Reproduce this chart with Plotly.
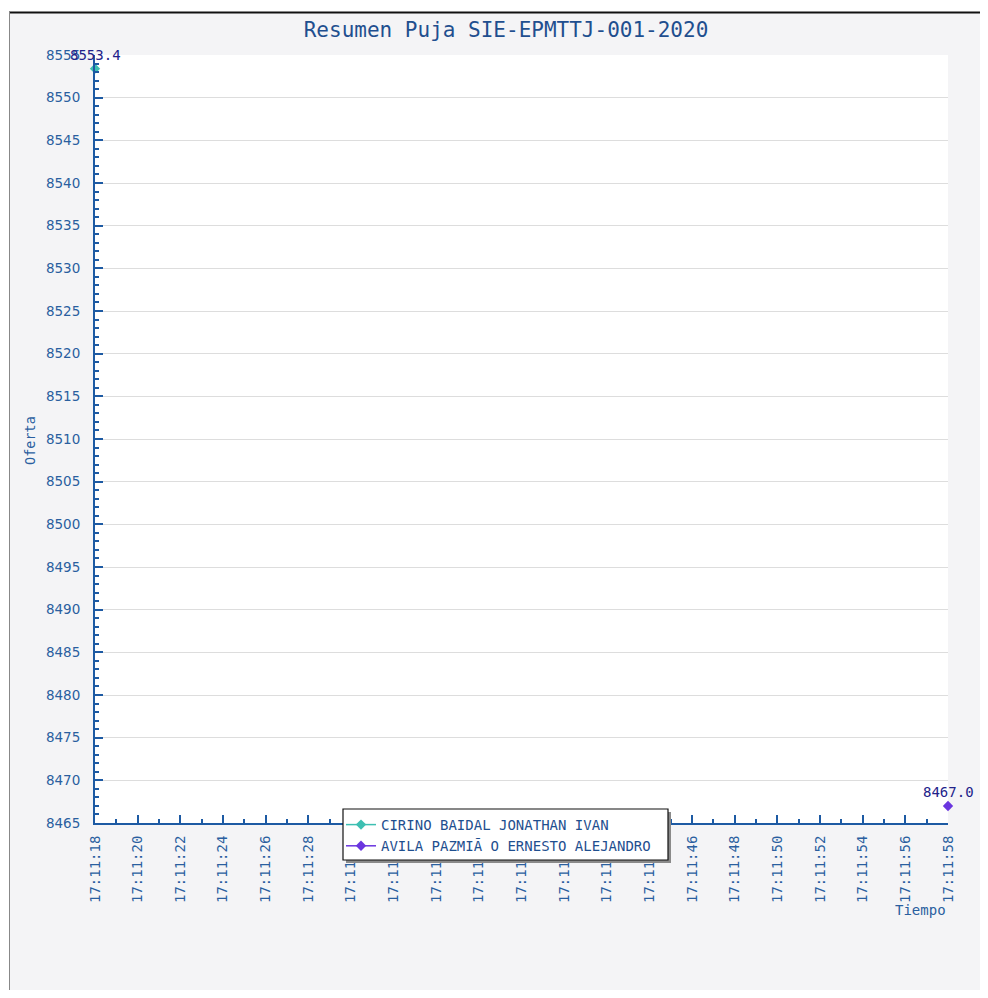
import plotly.graph_objects as go

# ---- data ----
series_names = ["CIRINO BAIDAL JONATHAN IVAN", "AVILA PAZMIÃ O ERNESTO ALEJANDRO"]
series_times = [["2020-01-01 17:11:18"], ["2020-01-01 17:11:58"]]
series_values = [[8553.4], [8467.0]]
series_colors = ["#3dbfb2", "#6a35df"]

x_range = ["2020-01-01 17:11:18", "2020-01-01 17:11:58"]
y_range = [8465, 8555]

title_text = "Resumen Puja SIE-EPMTTJ-001-2020"

# ---- layout constants (page pixels; page body has an 8px margin) ----
OFF = 8
W, H = 972, 982
PL, PR, PT, PB = 95, 948, 55, 823          # plot area in page pixels
L = PL - OFF
R = W - (PR - OFF)
T = PT - OFF
B = H - (PB - OFF)
PW, PH = PR - PL, PB - PT


def px(x):  # page x -> paper x
    return (x - PL) / PW


def py(y):  # page y -> paper y
    return (PB - y) / PH


AXIS = "#1d5aa3"
TXT = "#2a5f9f"
MONO = "DejaVu Sans Mono"

fig = go.Figure()
for name, xs, ys, col in zip(series_names, series_times, series_values, series_colors):
    fig.add_trace(go.Scatter(
        x=xs, y=ys, name=name, mode="lines+markers",
        line=dict(color=col, width=1.5),
        marker=dict(symbol="diamond", size=8, color=col),
        cliponaxis=False,
    ))
    for xv, yv in zip(xs, ys):
        fig.add_annotation(x=xv, y=yv, text=f"{yv:.1f}", showarrow=False,
                           xanchor="center", yshift=14,
                           font=dict(family=MONO, size=14, color="#22228a"))

shapes = [
    # white strip above frame
    dict(type="rect", xref="paper", yref="paper", x0=px(0), x1=px(1000), y0=py(12), y1=py(0),
         fillcolor="white", line=dict(width=0), layer="below"),
    dict(type="rect", xref="paper", yref="paper", x0=px(0), x1=px(9), y0=py(1000), y1=py(0),
         fillcolor="white", line=dict(width=0), layer="below"),
    dict(type="line", xref="paper", yref="paper", x0=px(9), x1=px(1000), y0=py(12.5), y1=py(12.5),
         line=dict(color="#111111", width=2), layer="below"),
    dict(type="line", xref="paper", yref="paper", x0=px(9.5), x1=px(9.5), y0=py(12), y1=py(1000),
         line=dict(color="#888888", width=1), layer="below"),
    # legend shadow + box
    dict(type="rect", xref="paper", yref="paper", x0=px(346), x1=px(671), y0=py(863), y1=py(812),
         fillcolor="#8a8a8a", line=dict(width=0), layer="above"),
    dict(type="rect", xref="paper", yref="paper", x0=px(343), x1=px(668), y0=py(860), y1=py(809),
         fillcolor="white", line=dict(color="#111111", width=1.2), layer="above"),
]

fig.update_layout(
    width=W, height=H,
    margin=dict(l=L, r=R, t=T, b=B, pad=0),
    paper_bgcolor="#f4f4f6",
    plot_bgcolor="white",
    title=dict(text=title_text, x=(506 - OFF) / W, xanchor="center", xref="container",
               y=1 - (30 - OFF) / H, yanchor="middle", yref="container",
               font=dict(family=MONO, size=21, color="#1f4f8f")),
    showlegend=True,
    legend=dict(x=px(341), y=py(809), xanchor="left", yanchor="top",
                bgcolor="rgba(0,0,0,0)", borderwidth=0,
                font=dict(family=MONO, size=14, color="#1f4f8f"),
                tracegroupgap=0, itemwidth=30),
    shapes=shapes,
    font=dict(family="DejaVu Sans", color=TXT),
)

fig.update_xaxes(
    type="date", range=x_range, tickformat="%H:%M:%S", dtick=2000,
    tick0="2020-01-01 17:11:18", tickangle=-90,
    showgrid=False, zeroline=False,
    showline=True, linecolor=AXIS, linewidth=2,
    ticks="inside", ticklen=8, tickcolor=AXIS, tickwidth=1.5,
    minor=dict(dtick=1000, ticks="inside", ticklen=4, tickcolor=AXIS, tickwidth=1.5, showgrid=False),
    tickfont=dict(family=MONO, size=14, color=TXT),
    ticklabelstandoff=5,
)
fig.update_yaxes(
    range=y_range, dtick=5, tick0=8465,
    showgrid=True, gridcolor="#dddddd", gridwidth=1, zeroline=False,
    showline=True, linecolor=AXIS, linewidth=2,
    ticks="inside", ticklen=8, tickcolor=AXIS, tickwidth=1.5,
    minor=dict(dtick=1, ticks="inside", ticklen=4, tickcolor=AXIS, tickwidth=1.5, showgrid=False),
    tickfont=dict(family="DejaVu Sans", size=13.5, color=TXT),
    ticklabelstandoff=10,
)

fig.add_annotation(xref="paper", yref="paper", x=px(30), y=py(441), text="Oferta",
                   textangle=-90, showarrow=False, xanchor="center", yanchor="middle",
                   font=dict(family=MONO, size=13.5, color=TXT))
fig.add_annotation(xref="paper", yref="paper", x=px(920), y=py(910), text="Tiempo",
                   showarrow=False, xanchor="center", yanchor="middle",
                   font=dict(family=MONO, size=14, color=TXT))

fig.write_html("out.html")
